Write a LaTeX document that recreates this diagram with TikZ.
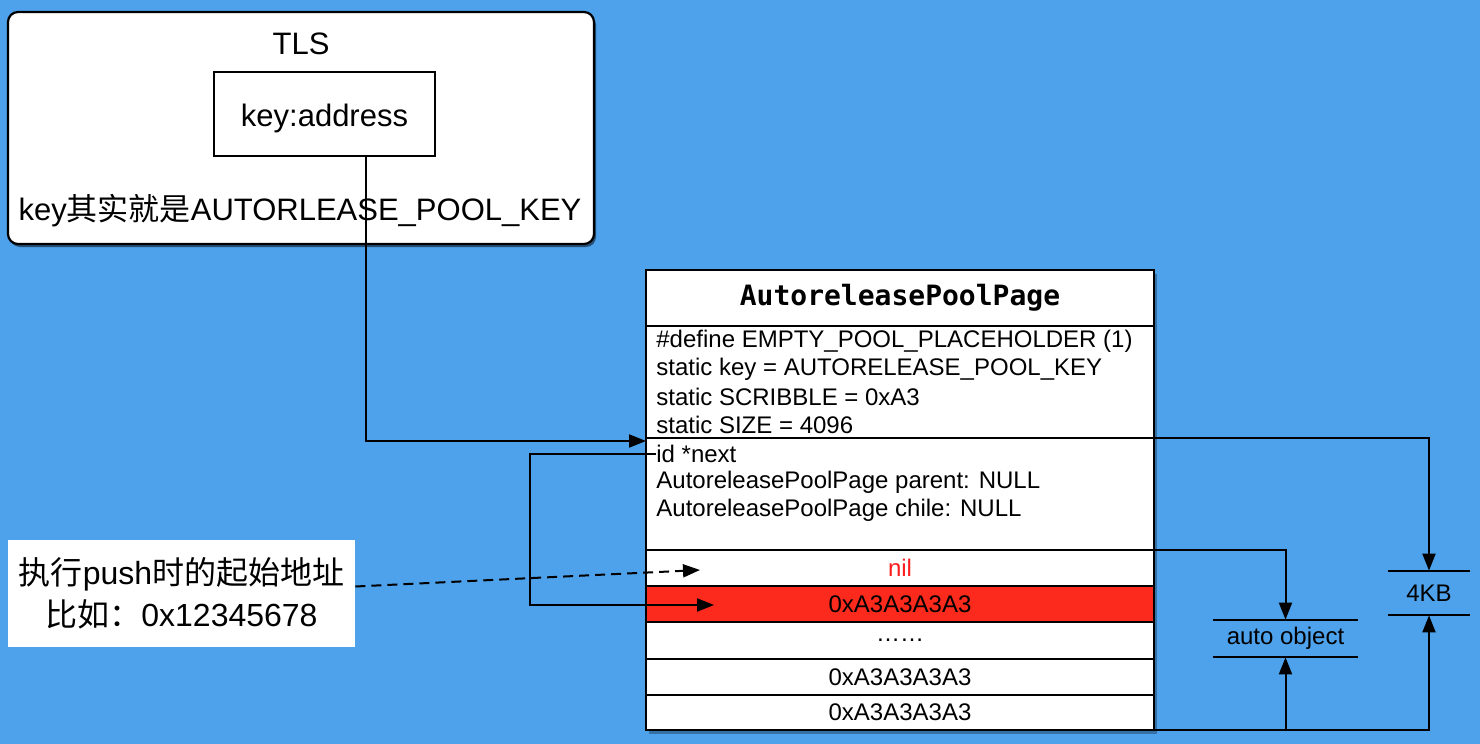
\documentclass[tikz,border=0pt]{standalone}
\usepackage{fontspec}
\setmainfont{Liberation Sans}
\newfontfamily\cjk{Noto Sans CJK SC}
\newfontfamily\mono{DejaVu Sans Mono}
\usetikzlibrary{arrows.meta,shadows,calc}
\definecolor{bg}{RGB}{77,162,235}
\definecolor{cellred}{RGB}{252,42,28}
\definecolor{nilred}{RGB}{252,30,30}
\begin{document}
\begin{tikzpicture}[x=0.5pt,y=-0.5pt,
  sz/.style 2 args={minimum width=#1*0.5pt, minimum height=#2*0.5pt},
  cell/.style={draw=black, line width=1.1pt, fill=white, inner sep=0pt, outer sep=0pt},
  big/.style={font=\fontsize{15.5}{21}\selectfont},
  body/.style={font=\fontsize{12}{14}\selectfont},
  txt/.style={body, inner sep=0pt, anchor=west},
  arr/.style={-{Triangle[length=8.5pt,width=6.5pt]}, line width=1pt},
  plain/.style={line width=1pt}]
\useasboundingbox (0,0) rectangle (1480,744);
\fill[bg] (0,0) rectangle (1480,744);

% TLS panel
\node[cell, rounded corners=5pt, sz={586}{232},
      drop shadow={shadow xshift=1pt, shadow yshift=-1.5pt, opacity=0.5, fill=black}] (tls) at (301,128) {};
\node[big] (tlsname) at (301,44) {TLS};
\node[cell, sz={221}{84}] (keyaddr) at (324.5,114) {};
\node[big] (keytext) at (324.5,118) {key:address};
\node[big] (keynote) at (300,211) {key{\cjk 其实就是}AUTORLEASE\_POOL\_KEY};

% page shadow
\fill[black, opacity=0.3] ([shift={(3,4)}]646,270) rectangle ([shift={(3,4)}]1154,730);

% AutoreleasePoolPage
\node[cell, sz={508}{56}, font=\mono\bfseries\fontsize{14}{16}\selectfont] (ptitle) at (900,298) {AutoreleasePoolPage};
\node[cell, sz={508}{112}] (consts) at (900,382) {};
\node[txt] (c1) at (656,341) {\#define EMPTY\_POOL\_PLACEHOLDER (1)};
\node[txt] (c2) at (656,369) {static key = AUTORELEASE\_POOL\_KEY};
\node[txt] (c3) at (656,397) {static SCRIBBLE = 0xA3};
\node[txt] (c4) at (656,425) {static SIZE = 4096};
\node[cell, sz={508}{112}] (vars) at (900,494) {};
\node[txt] (idnext) at (656,454) {id *next};
\node[txt] (v2) at (656,482) {AutoreleasePoolPage parent: NULL};
\node[txt] (v3) at (656,510) {AutoreleasePoolPage chile: NULL};
\node[cell, sz={508}{36}, body, text=nilred] (nil) at (900,568) {nil};
\node[cell, sz={508}{36}, body, fill=cellred] (red) at (900,604) {0xA3A3A3A3};
\node[cell, sz={508}{37}, body] (dots) at (900,640.5) {……};
\node[cell, sz={508}{36}, body] (r1) at (900,677) {0xA3A3A3A3};
\node[cell, sz={508}{35}, body] (r2) at (900,712.5) {0xA3A3A3A3};

% start label
\node[fill=white, sz={347}{107}, align=center, font=\fontsize{16}{21}\selectfont, inner sep=0pt] (start) at (181.5,593.5)
  {{\cjk 执行}push{\cjk 时的起始地址}\\{\cjk 比如：}0x12345678};

% right labels
\node[body, sz={82}{44}, inner sep=0pt] (kb) at (1429,593) {4KB};
\draw[plain] (kb.north west) -- (kb.north east);
\draw[plain] (kb.south west) -- (kb.south east);
\node[body, sz={145}{37}, inner sep=0pt] (ao) at (1285.5,638.5) {auto object};
\draw[plain] (ao.north west) -- (ao.north east);
\draw[plain] (ao.south west) -- (ao.south east);

% connectors
\draw[arr] ([xshift=20.75pt]keyaddr.south) |- ([yshift=-1.5pt]vars.north west);
\draw[arr] (idnext.west) -- ++(-126,0) |- ([xshift=34pt,yshift=-0.5pt]red.west);
\draw[arr, dash pattern=on 5pt off 3pt] ([yshift=3.5pt]start.east) -- ([xshift=27pt,yshift=-1pt]nil.west);
\draw[arr] (consts.south east) -| (kb.north);
\draw[arr] (vars.south east) -| (ao.north);
\draw[arr] (r2.south east) -| (kb.south);
\coordinate (aobot) at (ao.south |- r2.south);
\draw[arr] (aobot) -- (ao.south);
\end{tikzpicture}
\end{document}
